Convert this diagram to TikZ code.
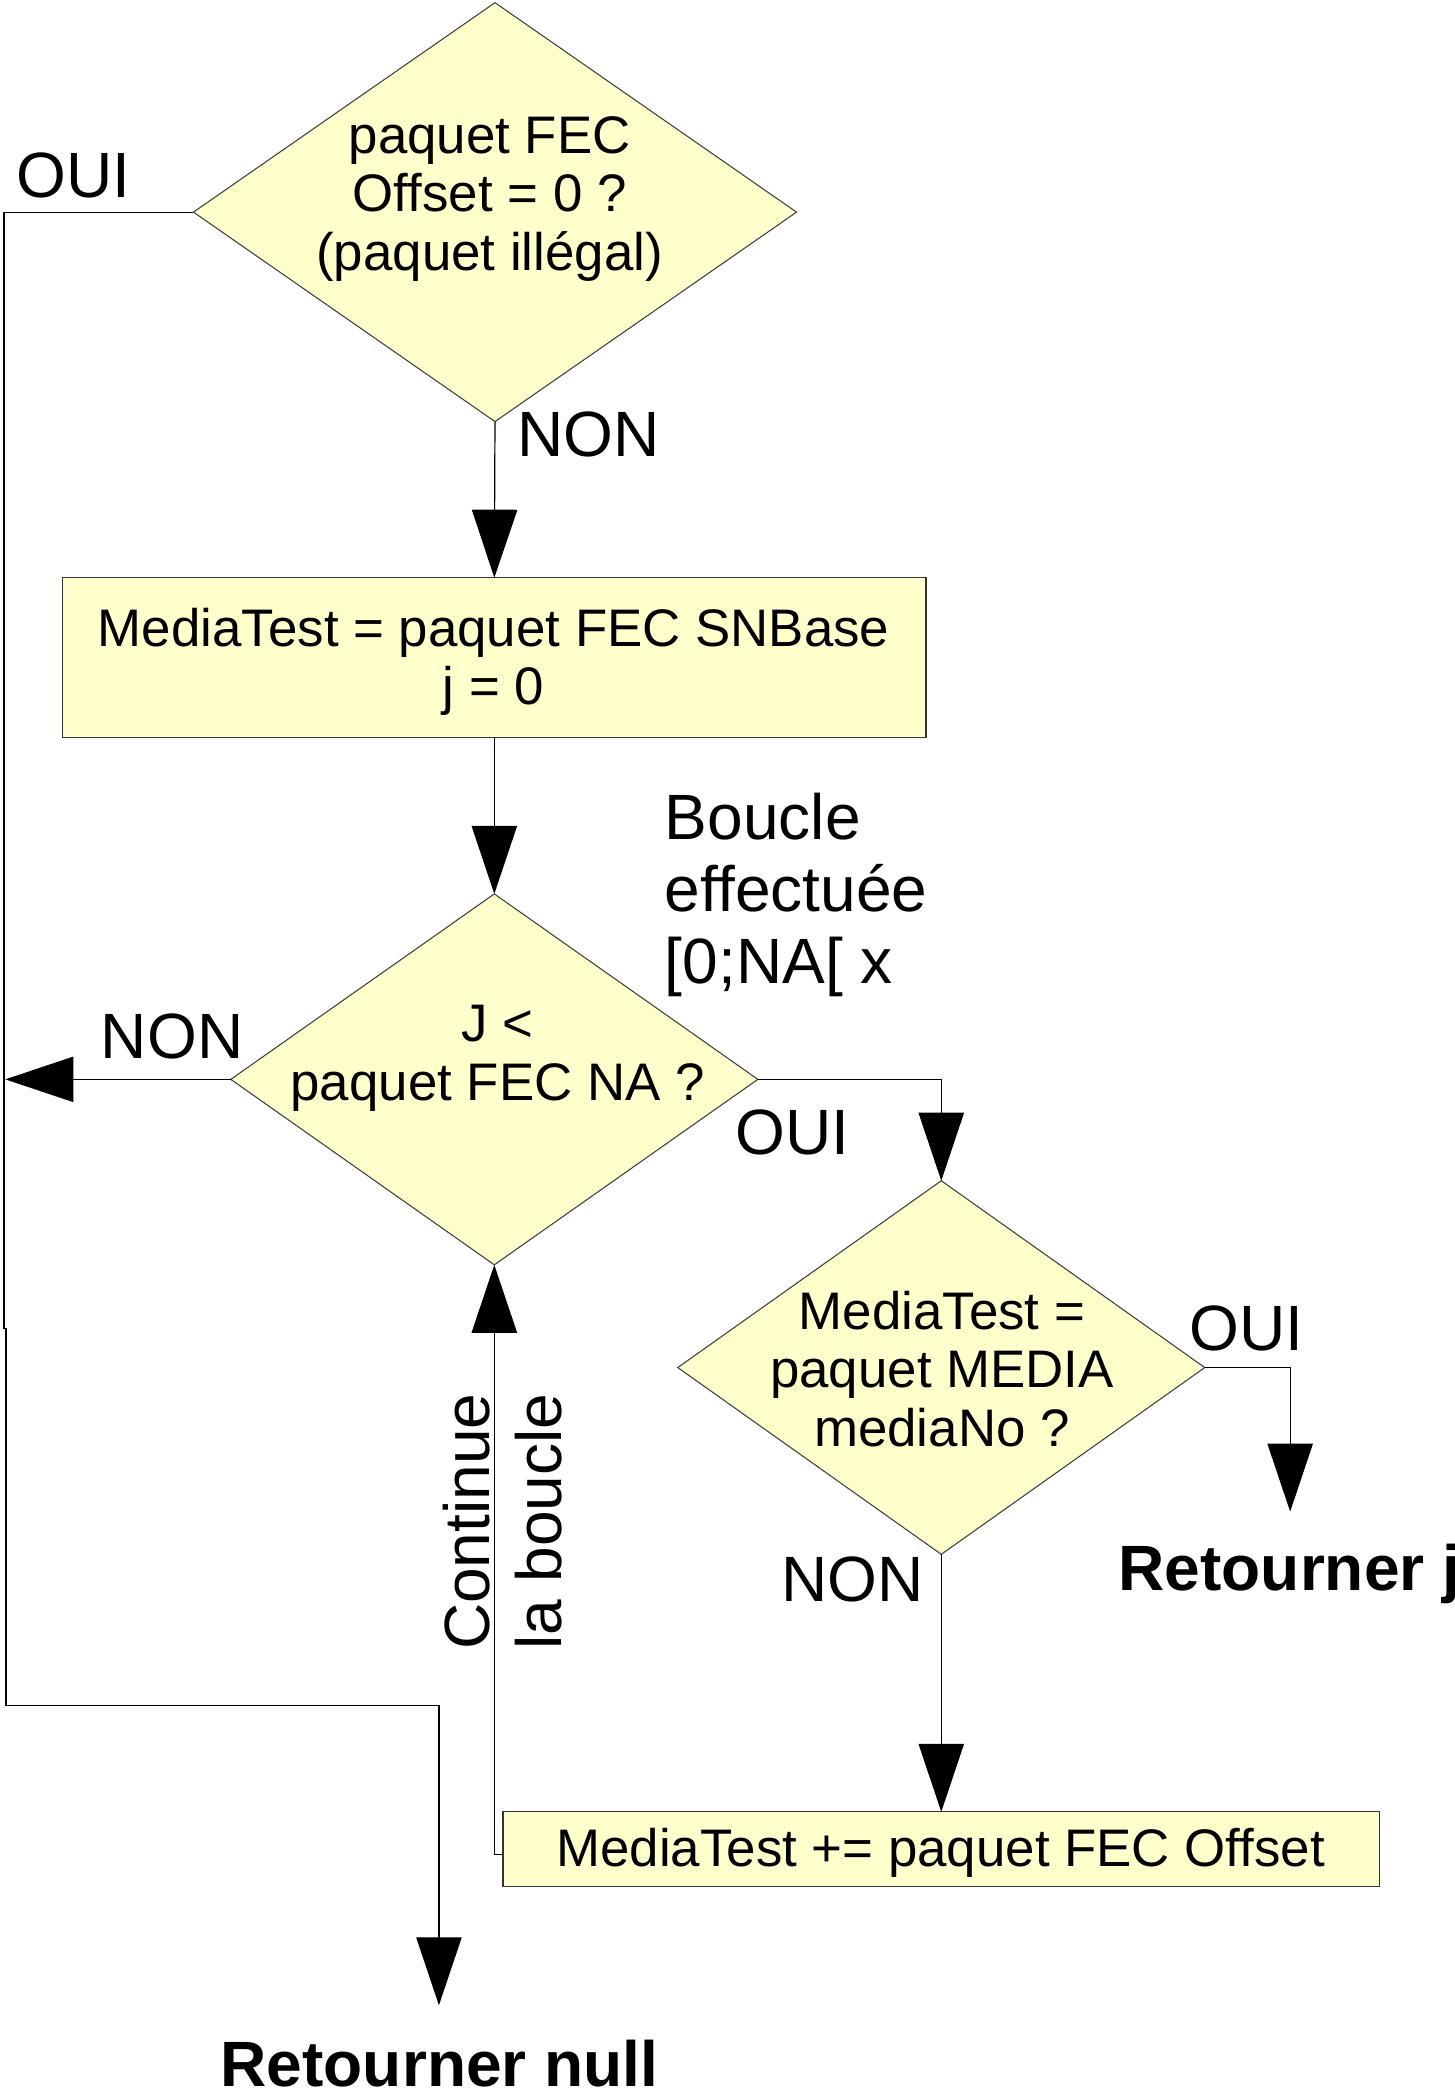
\documentclass[tikz,border=0pt]{standalone}
\usepackage{fontspec}
\setmainfont{Liberation Sans}
\usetikzlibrary{shapes.geometric,arrows.meta}
\definecolor{boxfill}{HTML}{FFFFCC}
\newcommand\myboxfont{\fontsize{19.8}{22}\selectfont}
\newcommand\mylblfont{\fontsize{24}{27}\selectfont}
\newcommand\myttlfont{\fontsize{24}{27}\selectfont\bfseries}
\begin{document}
\begin{tikzpicture}[x=0.5pt,y=-0.5pt,
  dia/.style={diamond, draw=black!75, line width=0.4pt, fill=boxfill, inner sep=0pt, outer sep=0pt},
  proc/.style={rectangle, draw=black!80, line width=0.45pt, fill=boxfill, inner sep=0pt, outer sep=0pt},
  conn/.style={line width=0.45pt},
  arr/.style={conn, -{Triangle[length=25.5pt,width=17pt]}},
  lbl/.style={inner sep=0pt, anchor=base, font=\mylblfont},
  ttl/.style={inner sep=0pt, anchor=base west, font=\myttlfont},
  dtext/.style={inner sep=0pt, align=center, font=\myboxfont}]
\useasboundingbox (0,0) rectangle (1090.5,1568);
% shapes
\node[dia, minimum width=226pt, minimum height=157pt] (d1) at (371,159) {};
\node[dtext] (d1t) at (367,149) {paquet FEC\\Offset = 0 ?\\(paquet illégal)};
\node[proc, minimum width=323.5pt, minimum height=60pt] (b1) at (370.5,493) {};
\node[dtext] (b1t) at (370,496) {MediaTest = paquet FEC SNBase\\j = 0};
\node[dia, minimum width=197.5pt, minimum height=139pt] (d2) at (370.5,809) {};
\node[dtext] (d2t) at (373,793) {J <\\paquet FEC NA ?};
\node[dia, minimum width=197.5pt, minimum height=140pt] (d3) at (705.5,1025) {};
\node[dtext] (d3t) at (706,1026) {MediaTest =\\paquet MEDIA\\mediaNo ?};
\node[proc, minimum width=328.5pt, minimum height=28pt] (b2) at (705.5,1386) {};
\node[dtext] (b2t) at (705,1389) {MediaTest += paquet FEC Offset};
% labels
\node[lbl] (l1) at (55,148) {OUI};
\node[lbl] (l2) at (441,342) {NON};
\node[lbl, anchor=north west, align=left] (l3) at (498,594) {Boucle\\effectuée\\{[0;NA[ x}};
\node[lbl] (l4) at (129,793) {NON};
\node[lbl] (l5) at (594,865) {OUI};
\node[lbl] (l6) at (934,1012) {OUI};
\node[lbl] (l7) at (639,1200) {NON};
\node[lbl, rotate=90, anchor=north west, align=left] (l8) at (332,1237) {Continue\\la boucle};
\node[ttl] (r1) at (838,1192) {Retourner j};
\node[ttl] (r2) at (165,1564) {Retourner null};
% coordinates
\coordinate (nonend) at (4,809);
\coordinate (rj) at (967,1133);
\coordinate (lp) at (370.5,1390);
\coordinate (c1) at (3,996);
\coordinate (c2) at (4.5,996);
\coordinate (c3) at (4.5,1278);
\coordinate (c4) at (329,1278);
\coordinate (rn) at (329,1503);
% connectors
\draw[arr] (d1.south) -- (b1.north);
\draw[arr] (b1.south) -- (d2.north);
\draw[arr] (d2.west) -- (nonend);
\draw[arr] (d2.east) -| (d3.north);
\draw[arr] (d3.east) -| (rj);
\draw[arr] (d3.south) -- (b2.north);
\draw[arr] (b2.west |- lp) -- (lp) -- (d2.south);
\draw[arr] (d1.west) -| (c1) -- (c2) -- (c3) -- (c4) -- (rn);
\end{tikzpicture}
\end{document}
